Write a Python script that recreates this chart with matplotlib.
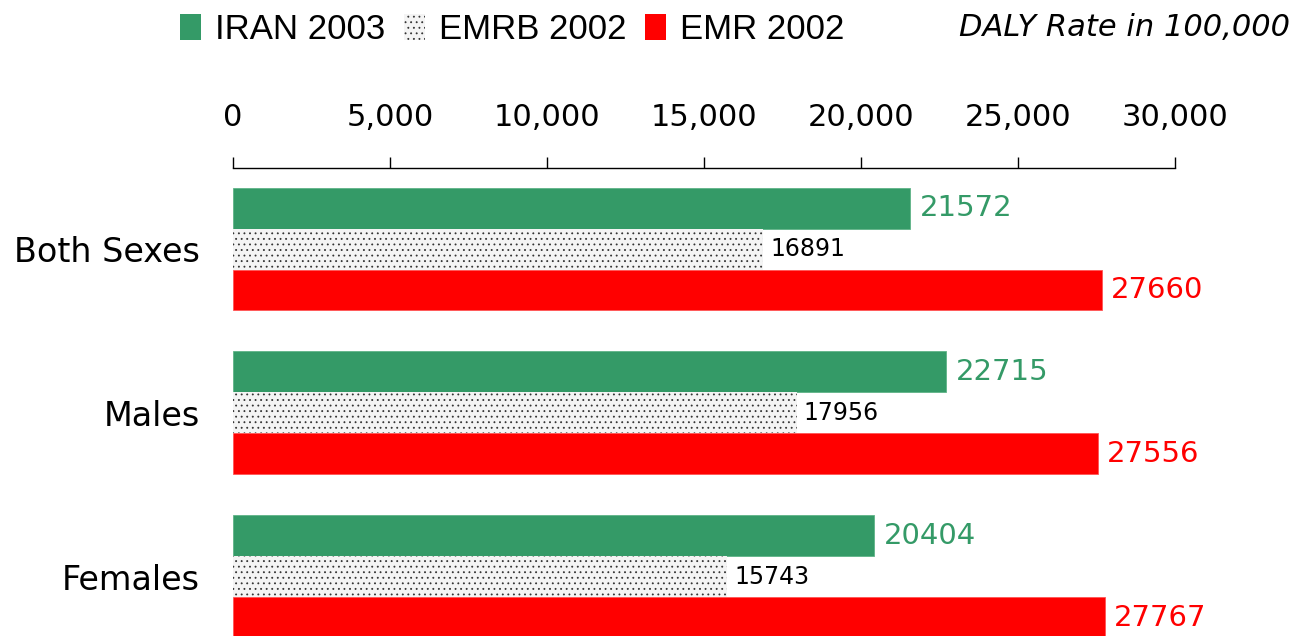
import matplotlib
matplotlib.use("Agg")
import matplotlib.pyplot as plt
from matplotlib.patches import Patch
from matplotlib.ticker import FuncFormatter
import numpy as np

groups = ["Both Sexes", "Males", "Females"]
series_names = ["IRAN 2003", "EMRB 2002", "EMR 2002"]
iran_2003 = [21572, 22715, 20404]
emrb_2002 = [16891, 17956, 15743]
emr_2002 = [27660, 27556, 27767]
x_ticks = [0, 5000, 10000, 15000, 20000, 25000, 30000]

GREEN = "#349a67"
RED = "#ff0000"

plt.rcParams['font.family'] = ['DejaVu Sans']
plt.rcParams['hatch.linewidth'] = 0.6

fig = plt.figure(figsize=(12.94, 6.36), dpi=100)
ax = fig.add_axes([233/1294, 0, (1175-233)/1294, 1 - 168/636])

y = np.arange(len(groups))
h = 0.25
ax.barh(y - h, iran_2003, height=h, color=GREEN, edgecolor="#5fb487", linewidth=0.6)
ax.barh(y, emrb_2002, height=h, color="#f4f4f4", edgecolor="#333333", linewidth=0, hatch="...")
ax.barh(y + h, emr_2002, height=h, color=RED, edgecolor="#ff5555", linewidth=0.6)

px_per_unit = 30000 / (1175 - 233)
for vals, yy, col, fs, off in [(iran_2003, y - h, GREEN, 21, 10),
                               (emrb_2002, y, "black", 17, 7),
                               (emr_2002, y + h, RED, 21, 9)]:
    for v, yv in zip(vals, yy):
        ax.text(v + off * px_per_unit, yv, str(v), color=col, fontsize=fs,
                va="center", ha="left")

ax.set_xlim(0, 30000)
ax.set_ylim(2.36, -0.494)
ax.set_xticks(x_ticks)
ax.xaxis.set_major_formatter(FuncFormatter(lambda v, p: f"{int(v):,}"))
ax.xaxis.tick_top()
ax.tick_params(axis='x', direction='out', length=8, width=1, pad=18, labelsize=22)
ax.set_yticks(y)
ax.set_yticklabels(groups, fontsize=24)
ax.tick_params(axis='y', length=0, pad=24)
for s in ["bottom", "left", "right"]:
    ax.spines[s].set_visible(False)
ax.spines["top"].set_linewidth(1)

handles = [Patch(facecolor=GREEN, edgecolor="none"),
           Patch(facecolor="#f4f4f4", edgecolor="#333333", linewidth=0, hatch="..."),
           Patch(facecolor=RED, edgecolor="none")]
fig.legend(handles, series_names, loc="upper left", bbox_to_anchor=(180/1294, 1 - 13/636),
           ncol=3, frameon=False, handlelength=0.6, handleheight=0.75, handletextpad=0.4,
           columnspacing=0.55, borderaxespad=0, borderpad=0,
           prop={'family': 'Liberation Sans', 'size': 25})

fig.text(1290/1294, 1 - 27/636, "DALY Rate in 100,000", ha="right", va="center",
         fontsize=22, style="italic")

fig.savefig("out.png", dpi=100)
